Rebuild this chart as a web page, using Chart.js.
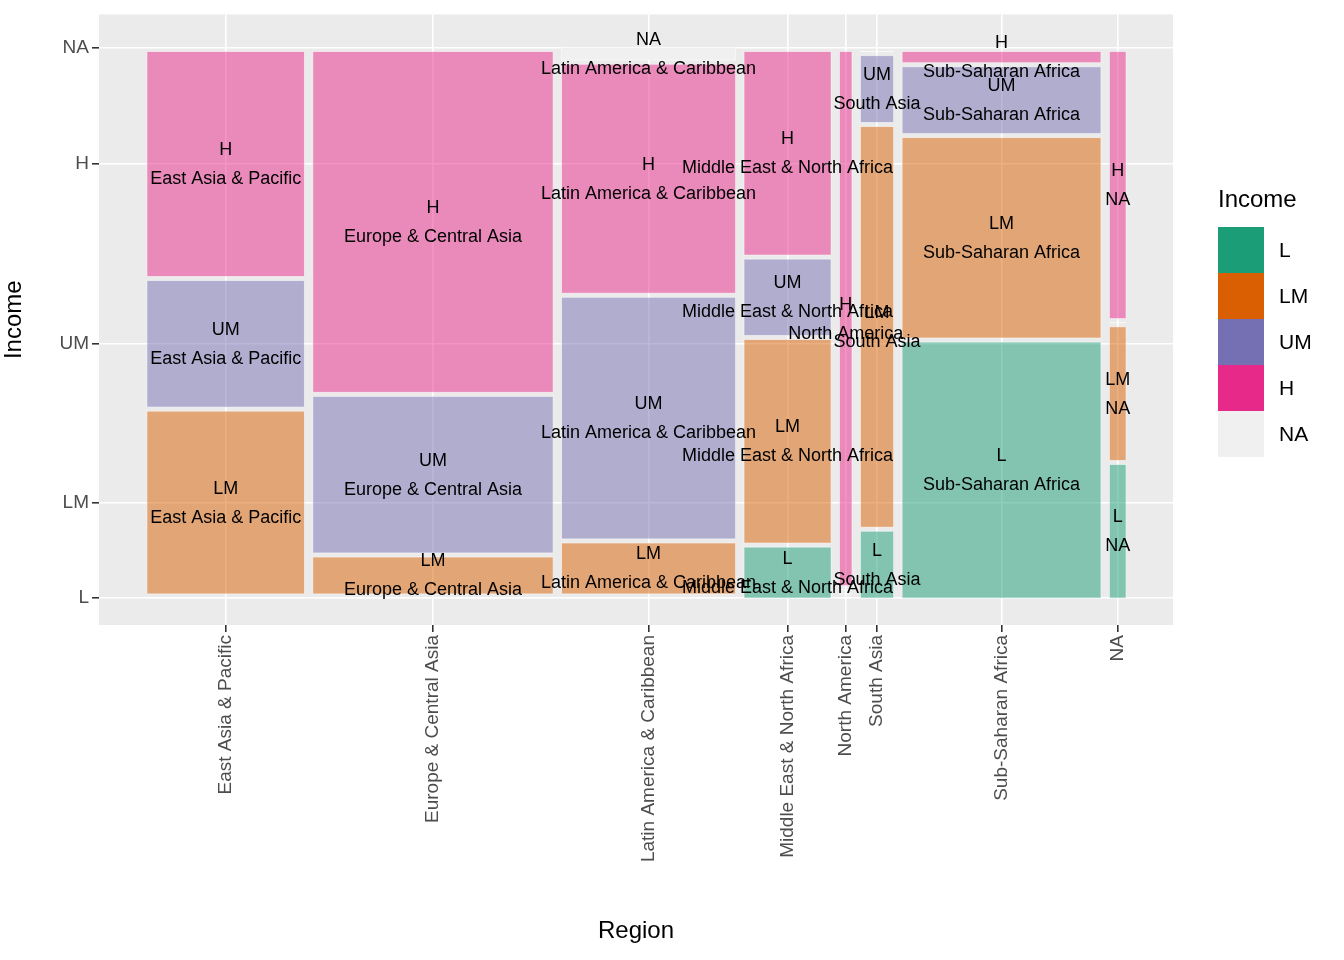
<!DOCTYPE html>
<html><head><meta charset="utf-8">
<script src="https://cdn.jsdelivr.net/npm/chart.js@4"></script>
<style>html,body{margin:0;padding:0;background:#fff}#wrap{width:1344px;height:960px}</style>
</head><body><div id="wrap"><canvas id="c"></canvas></div>
<script>
const regions = ["East Asia & Pacific","Europe & Central Asia","Latin America & Caribbean","Middle East & North Africa","North America","South Asia","Sub-Saharan Africa","NA"];
const incomeLevels = ["L","LM","UM","H","NA"];
const countL  = [0, 0, 0, 2, 0, 1, 23, 1];
const countLM = [13, 4, 4, 8, 0, 6, 18, 1];
const countUM = [9, 17, 19, 3, 0, 1, 6, 0];
const countH  = [16, 37, 18, 8, 3, 0, 1, 2];
const countNA = [0, 0, 1, 0, 0, 0, 0, 0];
const colors = ["#1B9E77","#D95F02","#7570B3","#E7298A","#F0F0F0"];

const series = [countL, countLM, countUM, countH, countNA];
const total = regions.reduce((s,_,i)=>s+series.reduce((a,c)=>a+c[i],0),0);
const gx = 0.0087, gy = 0.0075;
const widthAvail = 1 - gx*(regions.length-1);
const tiles = []; const centers = [];
let x0 = 0;
regions.forEach((r,i)=>{
  const n = series.reduce((a,c)=>a+c[i],0);
  const w = widthAvail*n/total;
  centers.push(x0+w/2);
  let y0 = 0; const hAvail = 1 - gy*(incomeLevels.length-1);
  incomeLevels.forEach((lv,j)=>{
    const h = hAvail*series[j][i]/n;
    tiles.push({x0, x1:x0+w, y0, y1:y0+h, lv, r, c:colors[j], n:series[j][i]});
    y0 += h + gy;
  });
  x0 += w + gx;
});
const yCenters = tiles.filter(t=>t.r===regions[0]).map(t=>(t.y0+t.y1)/2);

const mosaic = {
  id:'mosaic',
  beforeDatasetsDraw(chart){
    const {ctx, scales:{x,y}} = chart;
    ctx.save();
    tiles.forEach(t=>{
      const px0=x.getPixelForValue(t.x0), px1=x.getPixelForValue(t.x1);
      const py0=y.getPixelForValue(t.y0), py1=y.getPixelForValue(t.y1);
      ctx.globalAlpha = t.lv==="NA"?1:0.5;
      ctx.fillStyle=t.c; ctx.fillRect(px0,py1,px1-px0,py0-py1);
      ctx.globalAlpha = 0.6; ctx.strokeStyle='#ffffff'; ctx.lineWidth=0.8;
      ctx.strokeRect(px0,py1,px1-px0,py0-py1);
    });
    ctx.globalAlpha=1; ctx.fillStyle='#000'; ctx.font='18px "Liberation Sans", Arial';
    ctx.textAlign='center'; ctx.textBaseline='middle';
    tiles.forEach(t=>{
      if(t.n<=0) return;
      const cx=x.getPixelForValue((t.x0+t.x1)/2), cy=y.getPixelForValue((t.y0+t.y1)/2);
      ctx.fillText(t.lv,cx,cy-14); ctx.fillText(t.r,cx,cy+15);
    });
    ctx.restore();
  },
  beforeDraw(chart){
    const {ctx, chartArea:a} = chart;
    ctx.save(); ctx.fillStyle='#EBEBEB'; ctx.fillRect(a.left,a.top,a.right-a.left,a.bottom-a.top); ctx.restore();
  },
  afterDraw(chart){
    const ctx=chart.ctx; ctx.save();
    ctx.fillStyle='#000'; ctx.font='24px "Liberation Sans", Arial'; ctx.textAlign='left'; ctx.textBaseline='middle';
    ctx.fillText('Income',1218,200);
    ctx.font='21px "Liberation Sans", Arial';
    incomeLevels.forEach((lv,j)=>{
      const top=227+j*46;
      ctx.globalAlpha=1; ctx.fillStyle=colors[j]; ctx.fillRect(1218,top,46,46);
      ctx.fillStyle='#000'; ctx.fillText(lv,1279,top+24);
    });
    ctx.restore();
  }
};

new Chart(document.getElementById('c'),{
  type:'scatter',
  data:{datasets:[{data:[],pointRadius:0}]},
  options:{
    responsive:true, maintainAspectRatio:false, animation:false,
    layout:{padding:{top:14,right:171,left:0,bottom:0}},
    plugins:{legend:{display:false},tooltip:{enabled:false}},
    scales:{
      x:{type:'linear',min:-0.049,max:1.048,
        afterBuildTicks(s){s.ticks=centers.map(v=>({value:v}));},
        afterFit(s){s.height=335;},
        grid:{color:'#ffffff',lineWidth:1.6,tickColor:'#333333',tickLength:7,drawTicks:true},
        border:{display:false},
        ticks:{autoSkip:false,minRotation:90,maxRotation:90,color:'#4D4D4D',font:{size:19,family:'"Liberation Sans", Arial'},
          callback(v,i){return regions[i];}},
        title:{display:true,text:'Region',color:'#000',font:{size:24,family:'"Liberation Sans", Arial'},padding:{top:0,bottom:14}}
      },
      y:{type:'linear',min:-0.049,max:1.06,
        afterBuildTicks(s){s.ticks=yCenters.map(v=>({value:v}));},
        afterFit(s){s.width=99;},
        grid:{color:'#ffffff',lineWidth:1.6,tickColor:'#333333',tickLength:7},
        border:{display:false},
        ticks:{autoSkip:false,color:'#4D4D4D',font:{size:19,family:'"Liberation Sans", Arial'},
          callback(v,i){return incomeLevels[i];}},
        title:{display:true,text:'Income',color:'#000',font:{size:24,family:'"Liberation Sans", Arial'},padding:{top:0,bottom:4}}
      }
    }
  },
  plugins:[mosaic]
});
</script></body></html>
